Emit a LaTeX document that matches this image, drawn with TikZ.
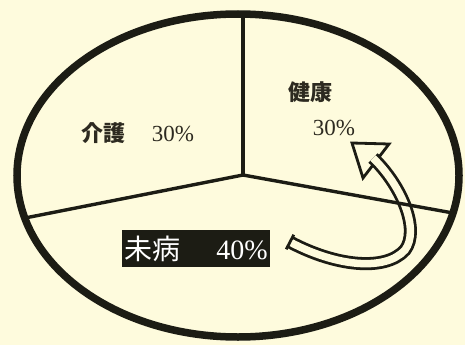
\documentclass[tikz,border=0pt]{standalone}
\usepackage{fontspec}
\setmainfont{Liberation Serif}
\newfontfamily\cjk{Noto Sans CJK JP}
\definecolor{paper}{RGB}{254,251,221}
\definecolor{ink}{RGB}{28,28,20}
\definecolor{lettering}{RGB}{45,42,32}
\tikzset{
  rim/.style={draw=ink, line width=7.5pt},
  spoke/.style={draw=ink, line width=3.4pt},
  share/.style={text=lettering, inner sep=0pt, font=\fontsize{23}{23}\selectfont},
  hollow/.style={draw=ink, line width=2.8pt, double=paper, double distance=7.5pt},
}
\begin{document}
\begin{tikzpicture}[x=1pt, y=-1pt]

    % frame and paper
    \fill[paper] (0,0) rectangle (465,345);
    \useasboundingbox (0,0) rectangle (465,345);

    % coordinates to be reused
    \coordinate (O) at (243,175);
    \coordinate (T) at (243,14);
    \coordinate (L) at (25,218);
    \coordinate (R) at (453,213);
    \coordinate (tail) at (290,242);
    \coordinate (bend) at (405,250);
    \coordinate (neck) at (373,158);
    \coordinate (tip) at (352,143);
    \coordinate (barbA) at (389,144);
    \coordinate (barbB) at (363,178);

    % draw arrow
    \draw[draw=ink, line width=2.8pt, fill=paper, line join=miter] (tip) -- (barbA) -- (barbB) -- cycle;
    \draw[hollow] (tail) .. controls (335,266) and (385,272) .. (bend)
                 .. controls (420,230) and (402,186) .. (neck);
    \draw[draw=ink, line width=2.8pt] (286.2,249.3) -- (293.8,234.7);

    % draw figure
    \draw[spoke] (O) -- (T);
    \draw[spoke] (O) -- (L);
    \draw[spoke] (O) -- (R);
    \draw[rim] (238,175.5) ellipse [x radius=221pt, y radius=161.5pt];

    % add labels
    \node[share] (care) at (138,133) {{\cjk\bfseries\fontsize{22}{22}\selectfont 介護}\hspace{26pt}30\%};
    \node[share] (well) at (310,92) {\cjk\bfseries\fontsize{22}{22}\selectfont 健康};
    \node[share] (wellpct) at (334,128) {30\%};
    \node[fill=ink, text=white, minimum width=148pt, minimum height=37pt, inner sep=0pt,
          font=\fontsize{28}{28}\selectfont] (pre) at (196,248.5)
          {{\cjk 未病}\hspace{36pt}40\%};

\end{tikzpicture}
\end{document}
